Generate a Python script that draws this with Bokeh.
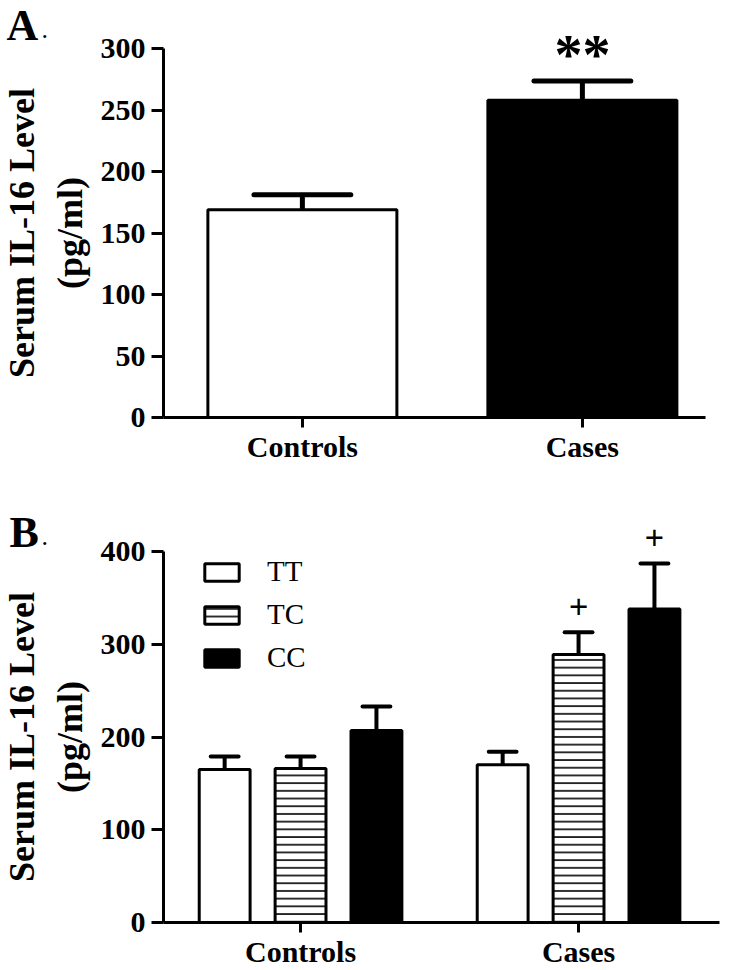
from bokeh.plotting import figure
from bokeh.models import Range1d, FixedTicker, Legend, LegendItem, ColumnDataSource
from bokeh.layouts import column
from bokeh.embed import file_html
from bokeh.resources import INLINE
from bokeh.core.properties import value

# ---------------- data ----------------
groups = ["Controls", "Cases"]

# Panel A
a_mean = [169, 258]
a_sem = [12, 15.5]
a_sig = ["", "**"]
a_fill = ["white", "black"]
a_yticks = [0, 50, 100, 150, 200, 250, 300]

# Panel B
genotypes = ["TT", "TC", "CC"]
b_mean_TT = [165, 170]
b_mean_TC = [166, 289]
b_mean_CC = [207, 338]
b_sem_TT = [14, 14]
b_sem_TC = [13, 24]
b_sem_CC = [26, 49]
b_sig_TT = ["", ""]
b_sig_TC = ["", "+"]
b_sig_CC = ["", "+"]
b_yticks = [0, 100, 200, 300, 400]

y_title = "Serum IL-16 Level\n(pg/ml)"
panel_letters = ["A", "B"]

SERIF = value("Liberation Serif")
W = 731
AXIS_PX = 163  # page x of the y axis


def style(p, yticks, x_lo, x_hi):
    p.xgrid.grid_line_color = None
    p.ygrid.grid_line_color = None
    p.outline_line_color = None
    p.background_fill_color = "white"
    p.border_fill_color = "white"
    for ax in (p.xaxis[0], p.yaxis[0]):
        ax.axis_line_width = 3
        ax.axis_line_color = "black"
        ax.major_tick_line_width = 3
        ax.major_tick_line_color = "black"
        ax.major_tick_in = 0
        ax.minor_tick_line_color = None
        ax.major_label_text_font = "Liberation Serif"
        ax.major_label_text_font_style = "bold"
        ax.major_label_text_color = "black"
    p.yaxis.ticker = FixedTicker(ticks=yticks)
    p.yaxis.bounds = (yticks[0], yticks[-1])
    p.yaxis.fixed_location = x_lo
    p.yaxis.major_tick_out = 12
    p.yaxis.major_label_text_font_size = "30px"
    p.yaxis.major_label_standoff = 6
    p.yaxis.axis_label = y_title
    p.yaxis.axis_label_text_font = "Liberation Serif"
    p.yaxis.axis_label_text_font_style = "bold"
    p.yaxis.axis_label_text_font_size = "36px"
    p.yaxis.axis_label_text_color = "black"
    p.yaxis.axis_label_standoff = 8
    p.xaxis.fixed_location = 0
    p.xaxis.bounds = (x_lo, x_hi)
    p.xaxis.ticker = FixedTicker(ticks=list(range(len(groups))))
    p.xaxis.major_label_overrides = {i: g for i, g in enumerate(groups)}
    p.xaxis.major_tick_out = 10
    p.xaxis.major_label_text_font_size = "30px"
    p.xaxis.major_label_standoff = 2


def panel_letter(p, letter, xfun, yfun, left_px, mid_px, dot_px):
    src = ColumnDataSource(dict(x=[xfun(left_px)], y=[yfun(mid_px)], t=[letter]))
    p.text(x="x", y="y", text="t", source=src, text_font=SERIF, text_font_style="bold",
           text_font_size="44px", text_baseline="middle", text_align="left",
           text_color="black")
    src2 = ColumnDataSource(dict(x=[xfun(dot_px)], y=[yfun(mid_px + 4)], t=["."]))
    p.text(x="x", y="y", text="t", source=src2, text_font=SERIF, text_font_size="26px",
           text_baseline="middle", text_align="left", text_color="black")


# ---------------- Panel A ----------------
A_TOP = 0          # page y of the top of figure A
A_H = 478
A_ZERO = 417       # page y of value 0
A_PXU = 280.0      # px per category step
A_YPX = 1.23       # px per unit
a_x0 = -0.496      # x value at the y axis


def ax_(px):
    return a_x0 + (px - AXIS_PX) / A_PXU


def ay_(py):
    return (A_ZERO - py) / A_YPX


pa = figure(width=W, height=A_H, x_range=Range1d(ax_(0), ax_(W)),
            y_range=Range1d(ay_(A_TOP + A_H), ay_(A_TOP)),
            output_backend="svg", toolbar_location=None, min_border=0)
style(pa, a_yticks, ax_(AXIS_PX), ax_(705))

xa = list(range(len(groups)))
a_top = [m + s for m, s in zip(a_mean, a_sem)]
src_a = ColumnDataSource(dict(x=xa, m=a_mean, t=a_top, fill=a_fill, sig=a_sig,
                              cl=[x - 0.173 for x in xa], cr=[x + 0.173 for x in xa]))
pa.segment(x0="x", y0="m", x1="x", y1="t", source=src_a, line_width=5, line_color="black")
pa.segment(x0="cl", y0="t", x1="cr", y1="t", source=src_a, line_width=5, line_color="black",
           line_cap="round")
pa.vbar(x="x", top="m", width=0.675, source=src_a, fill_color="fill", line_color="black",
        line_width=3)
pa.text(x="x", y="t", text="sig", source=src_a, text_align="center", text_baseline="middle",
        y_offset=-26, text_font=SERIF, text_font_style="bold", text_font_size="56px",
        text_color="black")
panel_letter(pa, panel_letters[0], ax_, ay_, 6, 25, 41)

# ---------------- Panel B ----------------
B_TOP = A_H
B_H = 970 - A_H
B_ZERO = 922
B_PXU = 278.0
B_YPX = 0.9275
b_x0 = -0.493


def bx_(px):
    return b_x0 + (px - AXIS_PX) / B_PXU


def by_(py):
    return (B_ZERO - py) / B_YPX


pb = figure(width=W, height=B_H, x_range=Range1d(bx_(0), bx_(W)),
            y_range=Range1d(by_(B_TOP + B_H), by_(B_TOP)),
            output_backend="svg", toolbar_location=None, min_border=0)
style(pb, b_yticks, bx_(AXIS_PX), bx_(719))

b_means = [b_mean_TT, b_mean_TC, b_mean_CC]
b_sems = [b_sem_TT, b_sem_TC, b_sem_CC]
b_sigs = [b_sig_TT, b_sig_TC, b_sig_CC]
offsets = [-0.273, 0.0, 0.273]
fills = ["white", "white", "black"]
hatches = [" ", "horizontal_line", " "]
bw = 0.183
cap = 0.05
items = []
for g, m, s, sg, off, fc, ht in zip(genotypes, b_means, b_sems, b_sigs, offsets, fills, hatches):
    xs = [i + off for i in range(len(groups))]
    tops = [a + b for a, b in zip(m, s)]
    src = ColumnDataSource(dict(x=xs, m=m, t=tops, sig=sg,
                                cl=[x - cap for x in xs], cr=[x + cap for x in xs]))
    pb.segment(x0="x", y0="m", x1="x", y1="t", source=src, line_width=4, line_color="black")
    pb.segment(x0="cl", y0="t", x1="cr", y1="t", source=src, line_width=4, line_color="black",
               line_cap="round")
    r = pb.vbar(x="x", top="m", width=bw, source=src, fill_color=fc, line_color="black",
                line_width=3, hatch_pattern=ht, hatch_color="black", hatch_scale=7.7,
                hatch_weight=1.6)
    pb.text(x="x", y="t", text="sig", source=src, text_align="center", text_baseline="middle",
            y_offset=-26, text_font=value("Liberation Sans"), text_font_size="33px",
            text_color="black")
    items.append(LegendItem(label=g, renderers=[r]))

leg = Legend(items=items, location=(200, 296), orientation="vertical",
             glyph_width=43, glyph_height=22, label_height=22, label_width=40,
             label_standoff=24, spacing=10, padding=0, margin=0,
             border_line_color=None, background_fill_alpha=0,
             label_text_font="Liberation Serif", label_text_font_size="29px",
             label_text_color="black")
pb.add_layout(leg)
panel_letter(pb, panel_letters[1], bx_, by_, 9, 532, 41)

layout = column(pa, pb, spacing=0)
open("out.html", "w").write(file_html(layout, INLINE))
